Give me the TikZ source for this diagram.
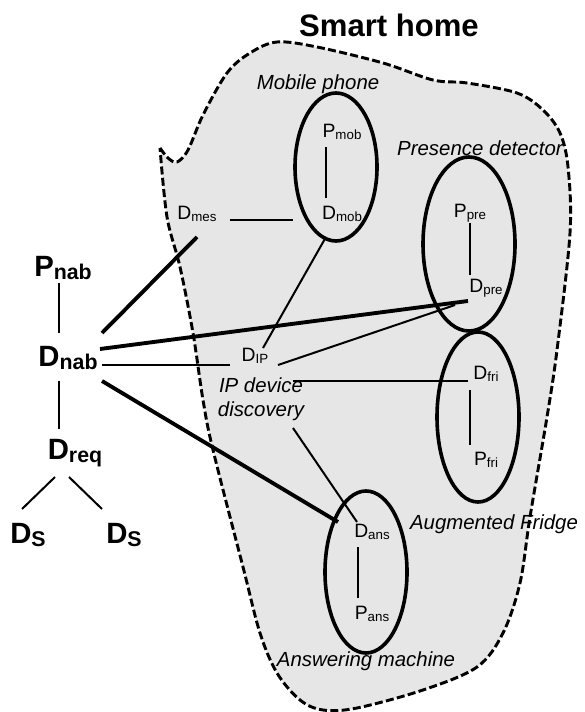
\documentclass[tikz,border=0pt]{standalone}
\usepackage{fontspec}
\setmainfont{Liberation Sans}
\usetikzlibrary{calc}
\newcommand{\lbl}[2]{#1\raisebox{-1.2pt}{\fontsize{10}{10}\selectfont #2}}
\newcommand{\blbl}[2]{\bfseries #1\raisebox{-2.5pt}{\fontsize{16}{16}\selectfont\bfseries #2}}
\definecolor{homegray}{RGB}{230,230,230}
\tikzset{
  txt/.style={inner sep=0pt, anchor=center, font=\fontsize{14.5}{16}\selectfont},
  btxt/.style={inner sep=0pt, anchor=center, font=\fontsize{22}{24}\selectfont\bfseries},
  itxt/.style={inner sep=0pt, anchor=center, font=\fontsize{15.3}{18}\selectfont\itshape, align=center},
  thin link/.style={line width=1.5pt},
  thick link/.style={line width=2.9pt},
  device/.style={line width=2.7pt},
  home/.style={line width=2.2pt, dash pattern=on 6pt off 2.5pt, fill=homegray}
}
\begin{document}
\begin{tikzpicture}[x=0.75pt,y=-0.75pt]
\useasboundingbox (0,0) rectangle (584,712);
% smart home region
\draw[home] plot[smooth, tension=0.55] coordinates {
 (160,148) (168,158) (177,162) (188,150) (203,115) (227,73) (250,53) (277,42)
 (317,47) (383,63) (433,80) (467,83) (517,93) (543,110) (560,133) (568,167)
 (570,233) (557,350) (547,417) (530,517) (520,583) (503,633) (477,667) (423,690)
 (357,708) (323,710) (300,700) (277,673) (260,633) (243,567) (213,450) (203,400)
 (193,333) (180,267) (167,217) (160,148)};
\node[inner sep=0pt, font=\fontsize{23.3}{26}\selectfont\bfseries] (title) at (389,25) {Smart home};

% device ellipses
\draw[device] (336,167) ellipse [x radius=41, y radius=74];
\draw[device] (469,244) ellipse [x radius=46, y radius=87];
\draw[device] (478,417) ellipse [x radius=41, y radius=85];
\draw[device] (366,572) ellipse [x radius=41, y radius=81];

% labels
\node[itxt] (lmob) at (318,84) {Mobile phone};
\node[itxt] (lpre) at (480,148) {Presence detector};
\node[itxt] (lfri) at (494,524) {Augmented Fridge};
\node[itxt] (lans) at (366,661) {Answering machine};
\node[itxt] (ipdd) at (261,399) {IP device\\discovery};

% nodes
\node[txt] (pmob) at (342,132) {\lbl{P}{mob}};
\node[txt] (dmob) at (342,214) {\lbl{D}{mob}};
\node[txt] (dmes) at (197,214) {\lbl{D}{mes}};
\node[txt] (ppre) at (470,213) {\lbl{P}{pre}};
\node[txt] (dpre) at (486,288) {\lbl{D}{pre}};
\node[txt] (dfri) at (486,374) {\lbl{D}{fri}};
\node[txt] (pfri) at (486,460) {\lbl{P}{fri}};
\node[txt] (dans) at (372,532) {\lbl{D}{ans}};
\node[txt] (pans) at (372,614) {\lbl{P}{ans}};
\node[txt] (dip)  at (255,356) {\lbl{D}{IP}};

\node[btxt] (pnab) at (63,268) {\blbl{P}{nab}};
\node[btxt] (dnab) at (68,358) {\blbl{D}{nab}};
\node[btxt] (dreq) at (75,453) {\blbl{D}{req}};
\node[btxt] (dsa)  at (28,535) {\blbl{D}{S}};
\node[btxt] (dsb)  at (124,535) {\blbl{D}{S}};

% thin connectors
\draw[thin link] ($(pmob)+(-16,15)$) -- ($(dmob)+(-16,-16)$);
\draw[thin link] ($(dmes)+(33,6)$) -- ($(dmob)+(-49,6)$);
\draw[thin link] ($(dip)+(8,-8)$) -- ($(dmob)+(-16,23)$);
\draw[thin link] ($(dip)+(23,9)$) -- ($(dpre)+(-31,17)$);
\draw[thin link] ($(dnab)+(34,7)$) -- ($(dip)+(-25,9)$);
\draw[thin link] ($(ipdd)+(32,-18)$) -- ($(dfri)+(-18,7)$);
\draw[thin link] ($(ipdd)+(32,29)$) -- ($(dans)+(-15,-10)$);
\draw[thin link] ($(ppre)+(0,10)$) -- ($(dpre)+(-16,-13)$);
\draw[thin link] ($(dfri)+(-16,16)$) -- ($(pfri)+(-16,-15)$);
\draw[thin link] ($(dans)+(-14,15)$) -- ($(pans)+(-14,-16)$);
\draw[thin link] ($(pnab)+(-4,15)$) -- ($(dnab)+(-9,-25)$);
\draw[thin link] ($(dnab)+(-9,23)$) -- ($(dreq)+(-16,-24)$);
\draw[thin link] ($(dreq)+(-20,24)$) -- ($(dsa)+(-6,-26)$);
\draw[thin link] ($(dreq)+(-6,24)$) -- ($(dsb)+(-22,-26)$);

% thick connectors
\draw[thick link] ($(dnab)+(34,-25)$) -- ($(dmes)+(0,23)$);
\draw[thick link] ($(dnab)+(32,-9)$) -- ($(dpre)+(-18,13)$);
\draw[thick link] ($(dnab)+(34,23)$) -- ($(dans)+(-34,-10)$);
\end{tikzpicture}
\end{document}
